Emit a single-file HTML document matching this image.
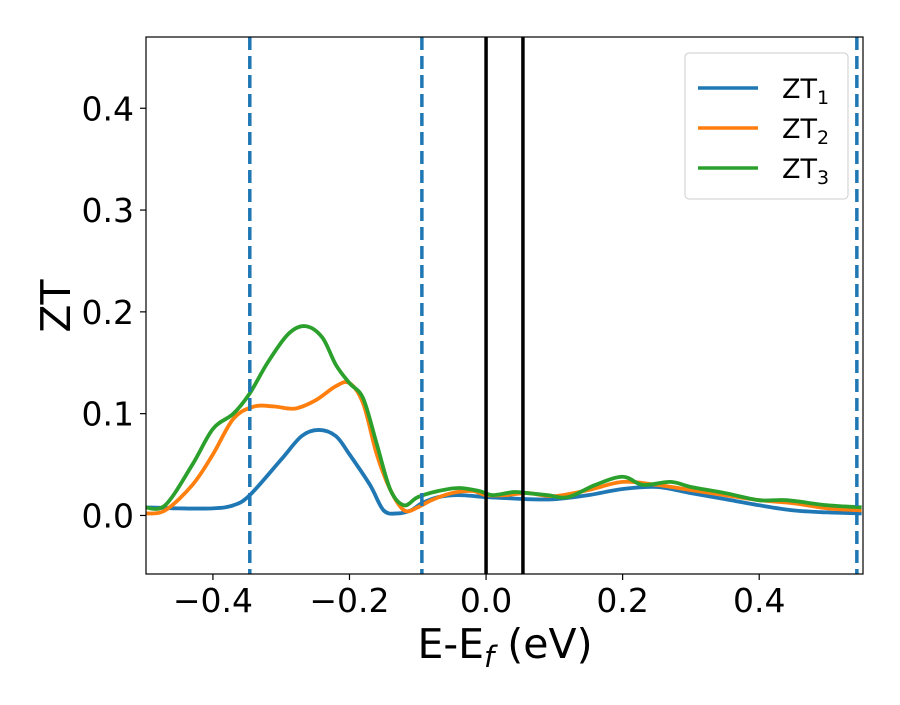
<!DOCTYPE html>
<html><head><meta charset="utf-8"><style>
body{margin:0;background:#fff}
svg text{font-family:"DejaVu Sans","Liberation Sans",sans-serif;fill:#000}
</style></head><body>
<svg id="chart" width="900" height="700" viewBox="0 0 900 700">
<g id="plot"></g>
</svg>
<script>
const xTicks=[-0.4,-0.2,0.0,0.2,0.4];
const xTickLabels=["\u22120.4","\u22120.2","0.0","0.2","0.4"];
const yTicks=[0.0,0.1,0.2,0.3,0.4];
const yTickLabels=["0.0","0.1","0.2","0.3","0.4"];
const dashedLines=[-0.346,-0.094,0.543];
const solidLines=[0.0,0.054];
const seriesNames=["1","2","3"];
const seriesColors=["#1f77b4","#ff7f0e","#2ca02c"];
const xs1=[-0.5,-0.45,-0.4,-0.37,-0.346,-0.3,-0.27,-0.245,-0.22,-0.2,-0.17,-0.15,-0.13,-0.11,-0.094,-0.07,-0.04,0,0.03,0.06,0.1,0.15,0.2,0.25,0.3,0.35,0.4,0.45,0.5,0.55];
const ys1=[0.008,0.007,0.007,0.01,0.02,0.055,0.078,0.084,0.078,0.06,0.03,0.005,0.002,0.005,0.012,0.018,0.02,0.018,0.017,0.016,0.016,0.02,0.026,0.028,0.022,0.016,0.01,0.005,0.003,0.002];
const xs2=[-0.5,-0.47,-0.43,-0.4,-0.37,-0.34,-0.31,-0.28,-0.25,-0.22,-0.2,-0.18,-0.16,-0.14,-0.12,-0.1,-0.08,-0.05,-0.02,0,0.03,0.06,0.1,0.15,0.2,0.25,0.3,0.35,0.4,0.45,0.5,0.55];
const ys2=[0.002,0.005,0.03,0.06,0.095,0.107,0.107,0.105,0.113,0.127,0.13,0.11,0.06,0.025,0.005,0.008,0.015,0.022,0.024,0.02,0.02,0.022,0.019,0.025,0.033,0.03,0.025,0.02,0.015,0.012,0.007,0.005];
const xs3=[-0.5,-0.47,-0.43,-0.4,-0.37,-0.346,-0.32,-0.29,-0.265,-0.24,-0.22,-0.2,-0.18,-0.16,-0.14,-0.12,-0.1,-0.07,-0.04,-0.01,0.01,0.04,0.06,0.09,0.12,0.16,0.2,0.23,0.27,0.3,0.35,0.4,0.44,0.5,0.55];
const ys3=[0.008,0.01,0.05,0.085,0.1,0.12,0.15,0.178,0.186,0.175,0.148,0.13,0.115,0.07,0.025,0.01,0.018,0.024,0.027,0.024,0.02,0.023,0.022,0.02,0.018,0.03,0.038,0.03,0.033,0.028,0.022,0.015,0.015,0.01,0.008];

const L=146,R=863,T=37,B=574;
const xMin=-0.498,xMax=0.552,yMin=-0.0575,yMax=0.47;
const sx=v=>L+(v-xMin)/(xMax-xMin)*(R-L);
const sy=v=>B-(v-yMin)/(yMax-yMin)*(B-T);
const NS="http://www.w3.org/2000/svg";
const svg=document.getElementById('chart');
function mk(tag,attrs,parent){const e=document.createElementNS(NS,tag);for(const k in attrs)e.setAttribute(k,attrs[k]);(parent||svg).appendChild(e);return e;}
const defs=mk('defs',{});const cp=mk('clipPath',{id:'clip'},defs);mk('rect',{x:L,y:T,width:R-L,height:B-T},cp);
const plot=mk('g',{'clip-path':'url(#clip)'});


function path(xs,ys){const p=xs.map((x,i)=>[sx(x),sy(ys[i])]);let d=`M${p[0][0]},${p[0][1]}`;
for(let i=0;i<p.length-1;i++){const p0=p[Math.max(0,i-1)],p1=p[i],p2=p[i+1],p3=p[Math.min(p.length-1,i+2)];
d+=` C${p1[0]+(p2[0]-p0[0])/6},${p1[1]+(p2[1]-p0[1])/6} ${p2[0]-(p3[0]-p1[0])/6},${p2[1]-(p3[1]-p1[1])/6} ${p2[0]},${p2[1]}`;}return d;}
const allX=[xs1,xs2,xs3],allY=[ys1,ys2,ys3];
allX.forEach((xs,i)=>{const e=mk('path',{d:path(xs,allY[i]),fill:'none',stroke:seriesColors[i],'stroke-width':3.8},plot);

});
dashedLines.forEach(v=>{const e=mk('line',{x1:sx(v),x2:sx(v),y1:T,y2:B,stroke:'#1f77b4','stroke-width':3.5,'stroke-dasharray':'13,6'},plot);

});
solidLines.forEach(v=>{const e=mk('line',{x1:sx(v),x2:sx(v),y1:T,y2:B,stroke:'#000','stroke-width':3.5},plot);

});
const fr=mk('rect',{x:L,y:T,width:R-L,height:B-T,fill:'none',stroke:'#000','stroke-width':1.2});


xTicks.forEach((v,i)=>{mk('line',{x1:sx(v),x2:sx(v),y1:B,y2:B+6,stroke:'#000','stroke-width':1.2});
const t=mk('text',{x:sx(v),y:B+38,'text-anchor':'middle','font-size':33});t.textContent=xTickLabels[i];

});
yTicks.forEach((v,i)=>{mk('line',{x1:L-6,x2:L,y1:sy(v),y2:sy(v),stroke:'#000','stroke-width':1.2});
const t=mk('text',{x:L-12,y:sy(v)+12,'text-anchor':'end','font-size':33});t.textContent=yTickLabels[i];

});
</script>
<svg style="position:absolute;left:0;top:0" width="900" height="700">
<text x="505" y="658" text-anchor="middle" font-size="41">E-E<tspan font-style="italic" font-size="29" dy="9">f</tspan><tspan dy="-9"> (eV)</tspan></text>
<text transform="translate(70,306) rotate(-90)" text-anchor="middle" font-size="41">ZT</text>
<g>
<rect x="685" y="53" width="163" height="146" rx="4" fill="#fff" fill-opacity="0.8" stroke="#ccc"/>
<g><line x1="698" x2="758" y1="88" y2="88" stroke="#1f77b4" stroke-width="3.5"/><text x="782" y="98" font-size="27">ZT<tspan font-size="19" dy="6">1</tspan></text></g>
<g><line x1="698" x2="758" y1="128" y2="128" stroke="#ff7f0e" stroke-width="3.5"/><text x="782" y="138" font-size="27">ZT<tspan font-size="19" dy="6">2</tspan></text></g>
<g><line x1="698" x2="758" y1="168" y2="168" stroke="#2ca02c" stroke-width="3.5"/><text x="782" y="178" font-size="27">ZT<tspan font-size="19" dy="6">3</tspan></text></g>
</g>
</svg>
</body></html>
